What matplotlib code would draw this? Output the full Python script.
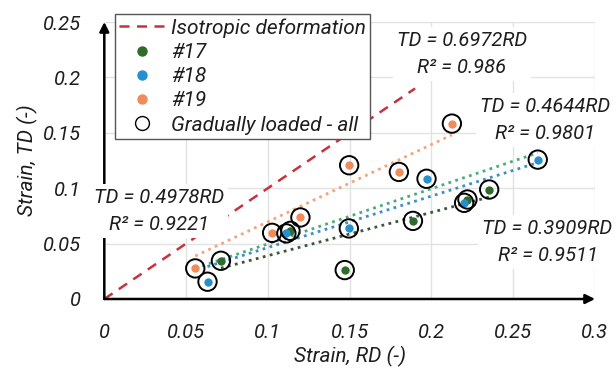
import matplotlib
matplotlib.use("Agg")
import matplotlib.pyplot as plt
from matplotlib.lines import Line2D
import numpy as np

plt.rcParams['font.family'] = ['Roboto', 'DejaVu Sans']
plt.rcParams['font.style'] = 'italic'

# ---- data ----
rd17 = [0.0713, 0.1138, 0.1470, 0.1887, 0.2220, 0.2353]
td17 = [0.0345, 0.0615, 0.0261, 0.0705, 0.0898, 0.0988]
rd18 = [0.0631, 0.1113, 0.1495, 0.1970, 0.2200, 0.2650]
td18 = [0.0156, 0.0592, 0.0637, 0.1085, 0.0868, 0.1258]
rd19 = [0.0556, 0.1026, 0.1199, 0.1497, 0.1801, 0.2125]
td19 = [0.0276, 0.0597, 0.0736, 0.1207, 0.1147, 0.1583]

iso_x = [0.0, 0.19]
slope17, r2_17 = 0.3909, 0.9511
slope18, r2_18 = 0.4644, 0.9801
slope19, r2_19 = 0.6972, 0.986
slope_all, r2_all = 0.4978, 0.9221

xticks = [0, 0.05, 0.1, 0.15, 0.2, 0.25, 0.3]
xticklabels = ['0', '0.05', '0.1', '0.15', '0.2', '0.25', '0.3']
yticks = [0, 0.05, 0.1, 0.15, 0.2, 0.25]
yticklabels = ['0', '0.05', '0.1', '0.15', '0.2', '0.25']

c17 = '#2f6b2a'
c18 = '#2690cf'
c19 = '#ef8c5a'
c_iso = '#c8323c'
txt = '#1e1e1e'

fig = plt.figure(figsize=(6.16, 3.69), dpi=100)
ax = fig.add_axes([104.3/616, 1-299/369, 490.7/616, 277/369])
ax.set_xlim(0, 0.3)
ax.set_ylim(0, 0.25)
for s in ax.spines.values():
    s.set_visible(False)
ax.set_xticks(xticks)
ax.set_xticklabels(xticklabels)
ax.set_yticks(yticks)
ax.set_yticklabels(yticklabels)
ax.tick_params(length=0, labelsize=14.5, colors=txt, pad=17)
ax.grid(True, color='#e2e2e2', lw=1.0, zorder=0)
ax.set_axisbelow(True)

ax.set_xlabel('Strain, RD (-)', fontsize=15, color=txt, labelpad=3)
ax.set_ylabel('Strain, TD (-)', fontsize=15, color=txt, labelpad=3)

# axis arrows
ax.annotate('', xy=(0.3, 0), xytext=(0, 0), xycoords='data',
            arrowprops=dict(arrowstyle='-|>', lw=1.8, color='black', mutation_scale=14,
                            shrinkA=0, shrinkB=0), zorder=3, annotation_clip=False)
ax.annotate('', xy=(0, 0.25), xytext=(0, 0), xycoords='data',
            arrowprops=dict(arrowstyle='-|>', lw=1.8, color='black', mutation_scale=14,
                            shrinkA=0, shrinkB=0), zorder=3, annotation_clip=False)

# isotropic line
iso_x = np.array(iso_x)
ax.plot(iso_x, iso_x, ls=(0, (4, 3)), color=c_iso, lw=1.8, zorder=2)

# trend lines
def trend(xs, slope, color):
    xs = np.array([min(xs), max(xs)])
    ax.plot(xs, slope*xs, ls=(0, (1, 1.6)), color=color, lw=2.0, zorder=2)

all_rd = rd17 + rd18 + rd19
trend(rd19, slope19, '#f2a57c')
trend(all_rd, slope_all, '#4cab7c')
trend(rd18, slope18, '#3d8ec8')
trend(rd17, slope17, '#3b573b')

# points
for xs, ys, c in [(rd17, td17, c17), (rd18, td18, c18), (rd19, td19, c19)]:
    ax.scatter(xs, ys, s=36, color=c, zorder=4, linewidths=0)
ax.scatter(all_rd, td17 + td18 + td19, s=175, facecolors='none', edgecolors='black',
           linewidths=1.4, zorder=5)

# annotations
bbox = dict(facecolor='white', edgecolor='none', pad=3)
def ann(x, y, slope, r2):
    ax.text(x, y, f'TD = {slope:.4f}RD\nR\u00b2 = {r2}', ha='center', va='center',
            fontsize=14.5, color=txt, linespacing=1.55, bbox=bbox, zorder=6)

ann(0.2186, 0.2211, slope19, r2_19)
ann(0.2694, 0.1616, slope18, r2_18)
ann(0.0335, 0.0794, slope_all, r2_all)
ann(0.2710, 0.0515, slope17, r2_17)

handles = [
    Line2D([], [], ls=(0, (4, 3)), color=c_iso, lw=1.8),
    Line2D([], [], ls='none', marker='o', ms=6.5, mfc=c17, mec=c17),
    Line2D([], [], ls='none', marker='o', ms=6.5, mfc=c18, mec=c18),
    Line2D([], [], ls='none', marker='o', ms=6.5, mfc=c19, mec=c19),
    Line2D([], [], ls='none', marker='o', ms=10, mfc='none', mec='black', mew=1.0),
]
labels = ['Isotropic deformation', '#17', '#18', '#19', 'Gradually loaded - all']
leg = fig.legend(handles, labels, loc='upper left', bbox_to_anchor=(115/616, 1-14/369),
                 frameon=True, fancybox=False, edgecolor='#555555', framealpha=1,
                 fontsize=15, handlelength=2.2, handletextpad=0.3, borderpad=0.2,
                 labelspacing=0.25, borderaxespad=0)
leg.get_frame().set_linewidth(1.0)
for t in leg.get_texts():
    t.set_color(txt)

fig.savefig('out.png', dpi=100)
